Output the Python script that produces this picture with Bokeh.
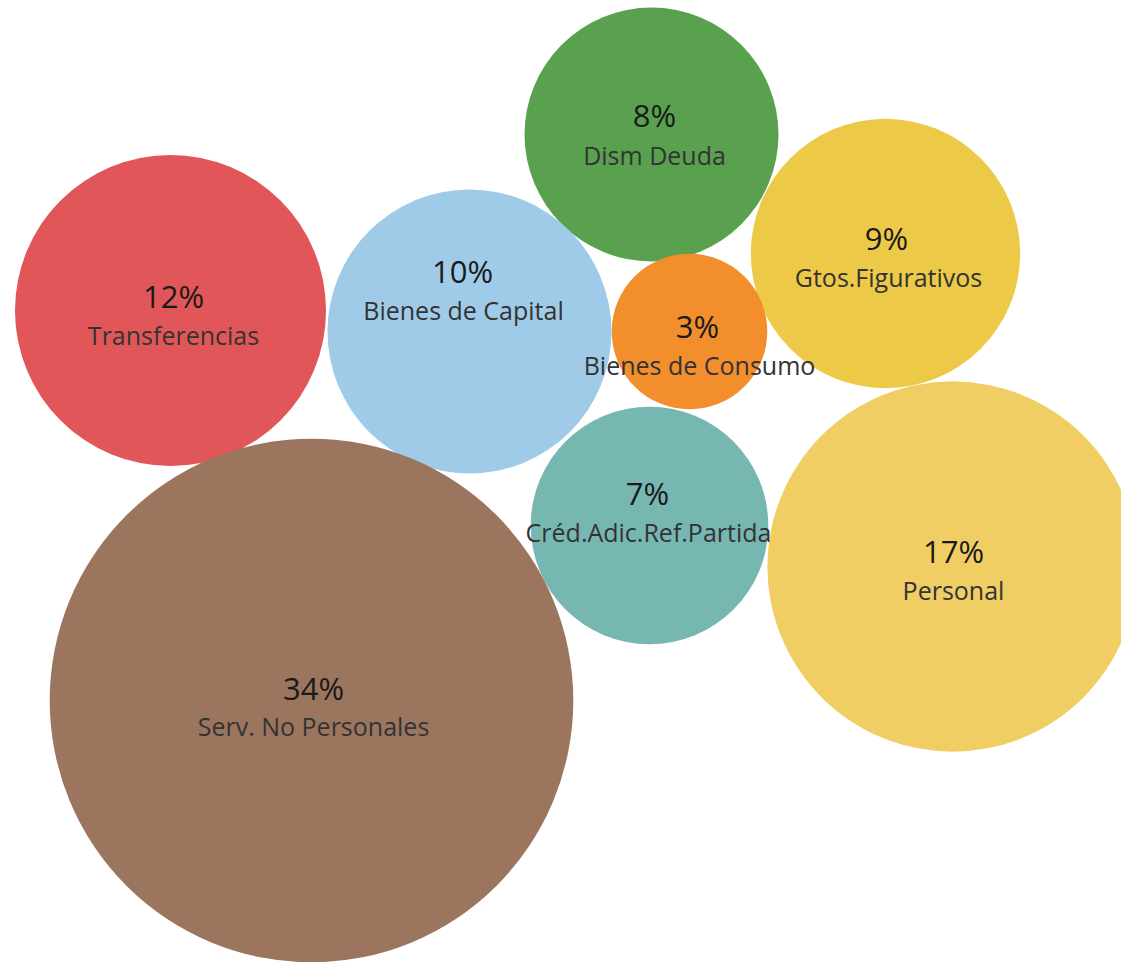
from bokeh.plotting import figure
from bokeh.models import Range1d, ColumnDataSource
from bokeh.core.properties import value
from bokeh.embed import file_html
from bokeh.resources import INLINE
import math

# ---- data ----
categories = ["Dism Deuda", "Gtos.Figurativos", "Transferencias", "Bienes de Capital",
              "Bienes de Consumo", "Créd.Adic.Ref.Partida", "Personal", "Serv. No Personales"]
shares = [8, 9, 12, 10, 3, 7, 17, 34]
colors = ["#59A14F", "#EDC948", "#E15759", "#A0CBE8", "#F28E2B", "#76B7B2", "#F1CE63", "#9C755F"]

# ---- layout (packed bubble positions, in page pixels) ----
cx = [651, 885, 170, 469, 689, 649, 952, 311]
cy = [134, 253, 310, 331, 331, 525, 566, 700]
pct_x = [654, 886, 173, 462, 697, 647, 953, 313]
pct_y = [114, 237, 295, 270, 325, 492, 550, 687]
lab_x = [654, 888, 173, 463, 699, 648, 953, 313]
lab_y = [154, 276, 334, 309, 364, 531, 589, 725]
SCALE = 44.9

radii = [SCALE * math.sqrt(s) for s in shares]
pct_text = [f"{s}%" for s in shares]

W, H = 1121, 962
p = figure(width=W, height=H, output_backend="svg", toolbar_location=None,
           x_range=Range1d(0, W), y_range=Range1d(H, 0),
           min_border=0, outline_line_color=None)
p.axis.visible = False
p.grid.visible = False
p.background_fill_color = "white"
p.border_fill_color = "white"

src = ColumnDataSource(dict(x=cx, y=cy, r=radii, c=colors))
p.circle(x="x", y="y", radius="r", fill_color="c", line_color=None, source=src)

p.text(x=pct_x, y=pct_y, text=pct_text, text_align="center", text_baseline="middle",
       text_font=value("Open Sans"), text_font_size="31px", text_color="#1a1a1a")
p.text(x=lab_x, y=lab_y, text=categories, text_align="center", text_baseline="middle",
       text_font=value("Open Sans"), text_font_size="25px", text_color="#333333")

open("out.html", "w").write(file_html(p, INLINE))
